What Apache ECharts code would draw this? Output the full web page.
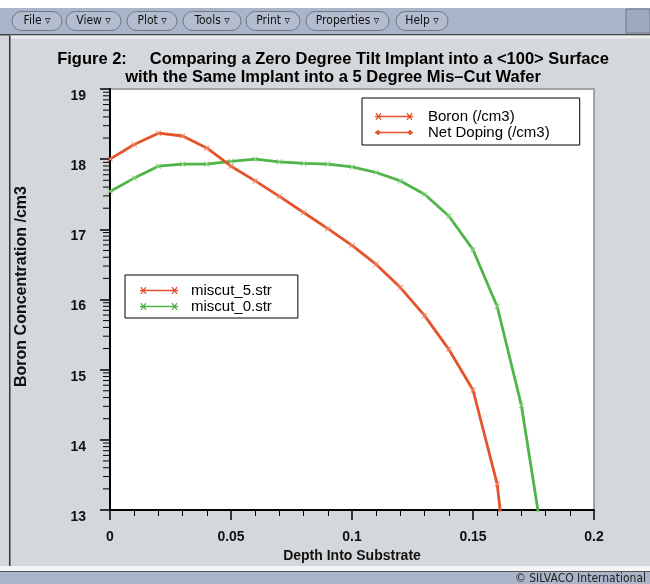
<!DOCTYPE html>
<html><head><meta charset="utf-8">
<script src="https://cdn.jsdelivr.net/npm/echarts@6/dist/echarts.min.js"></script>
<style>html,body{margin:0;padding:0;background:#d4d8db}#c{width:650px;height:584px}</style>
</head><body><div id="c"></div>
<script>
// ---- data ----
const depth5 = [0, 0.01, 0.02, 0.03, 0.04, 0.05, 0.06, 0.07, 0.08, 0.09, 0.10, 0.11, 0.12, 0.13, 0.14, 0.15, 0.16, 0.17];
const miscut5 = [18.00, 18.21, 18.37, 18.33, 18.16, 17.90, 17.69, 17.47, 17.24, 17.01, 16.77, 16.50, 16.17, 15.77, 15.29, 14.71, 13.37, 10.3];
const depth0 = [0, 0.01, 0.02, 0.03, 0.04, 0.05, 0.06, 0.07, 0.08, 0.09, 0.10, 0.11, 0.12, 0.13, 0.14, 0.15, 0.16, 0.17, 0.18];
const miscut0 = [17.54, 17.73, 17.90, 17.93, 17.93, 17.97, 18.00, 17.96, 17.94, 17.93, 17.89, 17.81, 17.69, 17.50, 17.19, 16.71, 15.90, 14.49, 12.3];
const yDecades = [13, 14, 15, 16, 17, 18];
const minorFactors = [2, 3, 4, 5, 6, 7, 8, 9];
const menuItems = ['File', 'View', 'Plot', 'Tools', 'Print', 'Properties', 'Help'];
const menuX = [12, 66, 127, 183, 246, 306, 396];
const menuW = [50, 55, 50, 58, 54, 83, 52];
const titleLines = ['Figure 2:     Comparing a Zero Degree Tilt Implant into a <100> Surface',
                    'with the Same Implant into a 5 Degree Mis\u2013Cut Wafer'];

const RED = '#e4532c', RED_L = '#f08a6a', GREEN = '#4fb548', GREEN_L = '#8fd38a';
const FONT = '"Liberation Sans", Arial, sans-serif';
const UIFONT = '"DejaVu Sans Condensed", "DejaVu Sans", sans-serif';

const minorTicks = [];
yDecades.forEach(d => minorFactors.forEach(f => minorTicks.push([0, d + Math.log10(f)])));

const xSym = 'path://M1,0 L5,4 L9,0 L10,1 L6,5 L10,9 L9,10 L5,6 L1,10 L0,9 L4,5 L0,1 Z';
const iconX = 'path://M0,3.3 L38,3.3 L38,4.7 L0,4.7 Z M0.5,1 L1.5,0.3 L6.5,7 L5.5,7.7 Z M5.5,0.3 L6.5,1 L1.5,7.7 L0.5,7 Z M31.5,1 L32.5,0.3 L37.5,7 L36.5,7.7 Z M36.5,0.3 L37.5,1 L32.5,7.7 L31.5,7 Z';
const iconD = 'path://M0,3.2 L38,3.2 L38,4.8 L0,4.8 Z M0,4 L3,1.2 L6,4 L3,6.8 Z M32,4 L35,1.2 L38,4 L35,6.8 Z';

const graphics = [
  {type:'rect', shape:{x:0,y:0,width:650,height:8}, style:{fill:'#ffffff'}, silent:true},
  {type:'rect', shape:{x:0,y:8,width:650,height:26}, style:{fill:'#aab5c9'}, silent:true},
  {type:'rect', shape:{x:0,y:34,width:650,height:1.5}, style:{fill:'#444'}, silent:true},
  {type:'rect', shape:{x:10,y:35.5,width:640,height:3}, style:{fill:'#eceef0'}, silent:true},
  {type:'rect', shape:{x:626,y:9,width:24,height:24}, style:{fill:'#9ea9bd', stroke:'#6d7686', lineWidth:1}, silent:true},
  {type:'rect', shape:{x:9,y:35.5,width:1.5,height:533}, style:{fill:'#333'}, silent:true},
  {type:'rect', shape:{x:0,y:566,width:650,height:5}, style:{fill:'#f4f5f6'}, silent:true},
  {type:'rect', shape:{x:0,y:571,width:650,height:1.2}, style:{fill:'#555'}, silent:true},
  {type:'rect', shape:{x:0,y:572,width:650,height:12}, style:{fill:'#aab5c9'}, silent:true},
  {type:'text', x:646, y:578.5, style:{text:'\u00a9 SILVACO International', font:'12px ' + UIFONT, fill:'#222', align:'right', verticalAlign:'middle'}, silent:true},
  {type:'text', x:333, y:59, style:{text:titleLines[0], font:'bold 16.5px ' + FONT, fill:'#000', align:'center', verticalAlign:'middle'}, silent:true},
  {type:'text', x:333, y:77, style:{text:titleLines[1], font:'bold 16.5px ' + FONT, fill:'#000', align:'center', verticalAlign:'middle'}, silent:true}
];
menuItems.forEach((m, i) => {
  graphics.push({type:'rect', shape:{x:menuX[i], y:11.5, width:menuW[i], height:19, r:9.5}, style:{fill:'#b3bdcf', stroke:'#6f7888', lineWidth:1}, silent:true});
  graphics.push({type:'text', x:menuX[i] + menuW[i]/2, y:21, style:{text:m + ' \u25bf', font:'12px ' + UIFONT, fill:'#111', align:'center', verticalAlign:'middle'}, silent:true});
});

const chart = echarts.init(document.getElementById('c'), null, {renderer:'canvas'});
chart.setOption({
  backgroundColor:'#d4d8db',
  animation:false,
  graphic: graphics,
  grid:{left:110, right:56, top:89, bottom:74, show:true, backgroundColor:'#fff', borderColor:'#8c8c8c', borderWidth:1.5},
  xAxis:{type:'value', min:0, max:0.2, interval:0.05,
    name:'Depth Into Substrate', nameLocation:'middle', nameGap:37,
    nameTextStyle:{fontSize:14, fontWeight:'bold', color:'#111', fontFamily:FONT},
    axisLine:{show:true, lineStyle:{color:'#000', width:2}},
    axisTick:{show:true, length:10, lineStyle:{color:'#000', width:1.5}},
    minorTick:{show:true, splitNumber:5, length:6, lineStyle:{color:'#000', width:1}},
    splitLine:{show:false}, minorSplitLine:{show:false},
    axisLabel:{margin:20, fontSize:14, fontWeight:'bold', color:'#111', fontFamily:FONT}},
  yAxis:{type:'value', min:13, max:19, interval:1,
    name:'Boron Concentration /cm3', nameLocation:'middle', nameGap:80, nameRotate:90,
    nameTextStyle:{fontSize:16, fontWeight:'bold', color:'#111', fontFamily:FONT, padding:[0,0,0,26]},
    axisLine:{show:true, lineStyle:{color:'#000', width:2}},
    axisTick:{show:true, length:10, lineStyle:{color:'#000', width:1.5}},
    splitLine:{show:false},
    axisLabel:{margin:24, fontSize:14, fontWeight:'bold', color:'#111', fontFamily:FONT, verticalAlign:'top'}},
  legend:[
    {data:[{name:'Boron (/cm3)', icon:iconX, itemStyle:{color:RED, borderWidth:0}},
           {name:'Net Doping (/cm3)', icon:iconD, itemStyle:{color:RED, borderWidth:0}}],
     orient:'vertical', left:362, top:98, padding:[11,30,5,13], itemWidth:38, itemHeight:8, itemGap:1,
     backgroundColor:'#fff', borderColor:'#000', borderWidth:1, selectedMode:false,
     textStyle:{fontSize:15, color:'#000', fontFamily:FONT, padding:[0,0,0,10]}},
    {data:[{name:'miscut_5.str', icon:iconX, itemStyle:{color:RED, borderWidth:0}},
           {name:'miscut_0.str', icon:iconX, itemStyle:{color:GREEN, borderWidth:0}}],
     orient:'vertical', left:125, top:275, padding:[8,26,4,15], itemWidth:38, itemHeight:8, itemGap:1,
     backgroundColor:'#fff', borderColor:'#000', borderWidth:1, selectedMode:false,
     textStyle:{fontSize:15, color:'#000', fontFamily:FONT, padding:[0,0,0,8]}}
  ],
  series:[
    {type:'custom', name:'minorY', silent:true, clip:false, z:5,
     data:minorTicks,
     renderItem:(params, api) => {
       const p = api.coord([0, api.value(1)]);
       return {type:'line', shape:{x1:p[0]-7, y1:p[1], x2:p[0]-1, y2:p[1]}, style:{stroke:'#000', lineWidth:1}};
     }},
    {type:'line', name:'Boron (/cm3)', data:[], color:RED},
    {type:'line', name:'Net Doping (/cm3)', data:[], color:RED},
    {type:'line', name:'miscut_0.str', data:depth0.map((d, i) => [d, miscut0[i]]),
     lineStyle:{color:GREEN, width:2.8}, symbol:xSym, symbolSize:6, showAllSymbol:true,
     itemStyle:{color:GREEN_L}, z:3},
    {type:'line', name:'miscut_5.str', data:depth5.map((d, i) => [d, miscut5[i]]),
     lineStyle:{color:RED, width:2.8}, symbol:xSym, symbolSize:6, showAllSymbol:true,
     itemStyle:{color:RED_L}, z:4}
  ]
});
</script></body></html>
